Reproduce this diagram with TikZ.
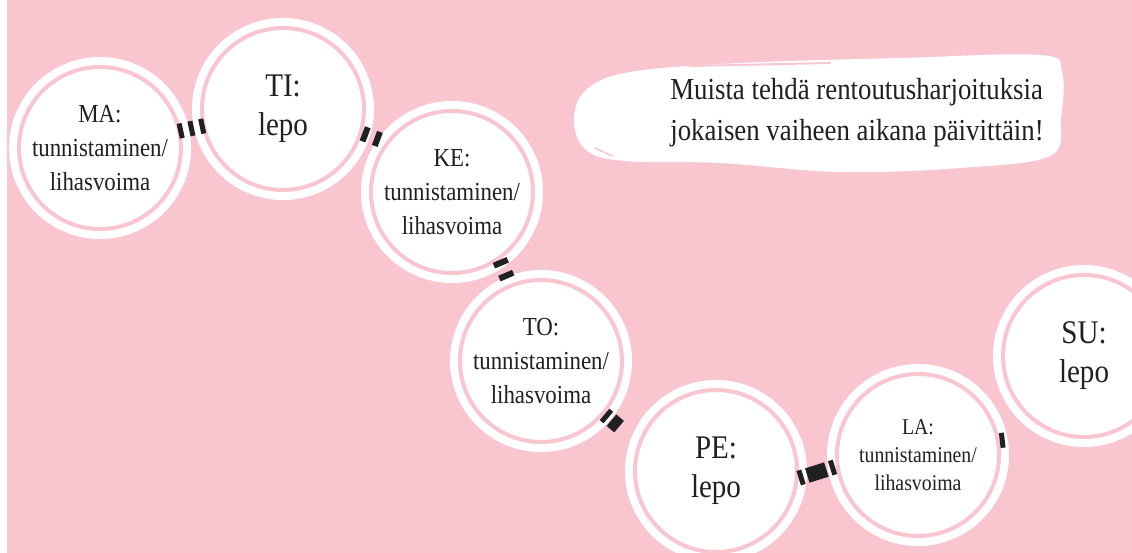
\documentclass[tikz,border=0pt]{standalone}
\usepackage{fontspec}
\setmainfont{Liberation Serif}[FakeStretch=0.88]
\definecolor{bgpink}{RGB}{249,198,208}
\definecolor{ink}{RGB}{32,32,32}
\begin{document}
\begin{tikzpicture}[x=1pt,y=-1pt,
  day/.style={circle, minimum size=162pt, inner sep=0pt, fill=white, draw=bgpink,
    line width=4pt, preaction={draw=white, line width=20pt}, align=center, text=ink},
  work/.style={day, font=\fontsize{26}{34}\selectfont},
  worksmall/.style={day, font=\fontsize{22.5}{28}\selectfont},
  rest/.style={day, font=\fontsize{33}{39}\selectfont},
  link/.style={draw=ink, line width=15pt}
]
\useasboundingbox (0,0) rectangle (1132,553);
\fill[white] (0,0) rectangle (1132,553);
\fill[bgpink] (7,0) rectangle (1132,553);

% brush-stroke note
\fill[white] plot[smooth cycle, tension=0.6] coordinates {
  (574,120) (586,90) (630,72) (740,63) (900,58) (1040,55) (1062,72)
  (1061,118) (1050,156) (960,168) (840,172) (720,163) (625,161) (586,150)};
\draw[bgpink, line width=2pt, line cap=round] (690,66) -- (830,63);
\draw[bgpink, line width=1.5pt, line cap=round] (595,148) -- (612,156);
\node[font=\fontsize{30.5}{41}\selectfont, align=left, text=ink] (note) at (857,113)
  {Muista tehdä rentoutusharjoituksia\\jokaisen vaiheen aikana päivittäin!};

% days
\node[work] (MA) at (100,148) {MA:\\tunnistaminen/\\lihasvoima};
\node[rest] (TI) at (283,109) {TI:\\lepo};
\node[work] (KE) at (452,192) {KE:\\tunnistaminen/\\lihasvoima};
\node[work] (TO) at (541,361) {TO:\\tunnistaminen/\\lihasvoima};
\node[rest] (PE) at (716,471) {PE:\\lepo};
\node[worksmall] (LA) at (918,455) {LA:\\tunnistaminen/\\lihasvoima};
\node[rest] (SU) at (1084,356) {SU:\\lepo};

% connectors
\draw[link, dash pattern=on 5pt off 6pt, shorten <=-3pt, shorten >=-3pt] (MA) -- (TI);
\draw[link, dash pattern=on 6pt off 7pt on 6pt off 100pt] (TI.-17) -- (KE.143);
\draw[link, dash pattern=on 6pt off 8pt on 6pt off 100pt] (KE.-55) -- (TO.112);
\draw[link, dash pattern=on 5pt off 4pt on 10pt off 100pt] (TO.-40) -- (PE.160);
\draw[link, dash pattern=on 5pt off 4pt on 20pt off 4pt on 5pt off 100pt] (PE.-5) -- (LA.188);
\draw[link, dash pattern=on 5pt off 100pt] (LA.10) -- (SU.-110);
\end{tikzpicture}
\end{document}
